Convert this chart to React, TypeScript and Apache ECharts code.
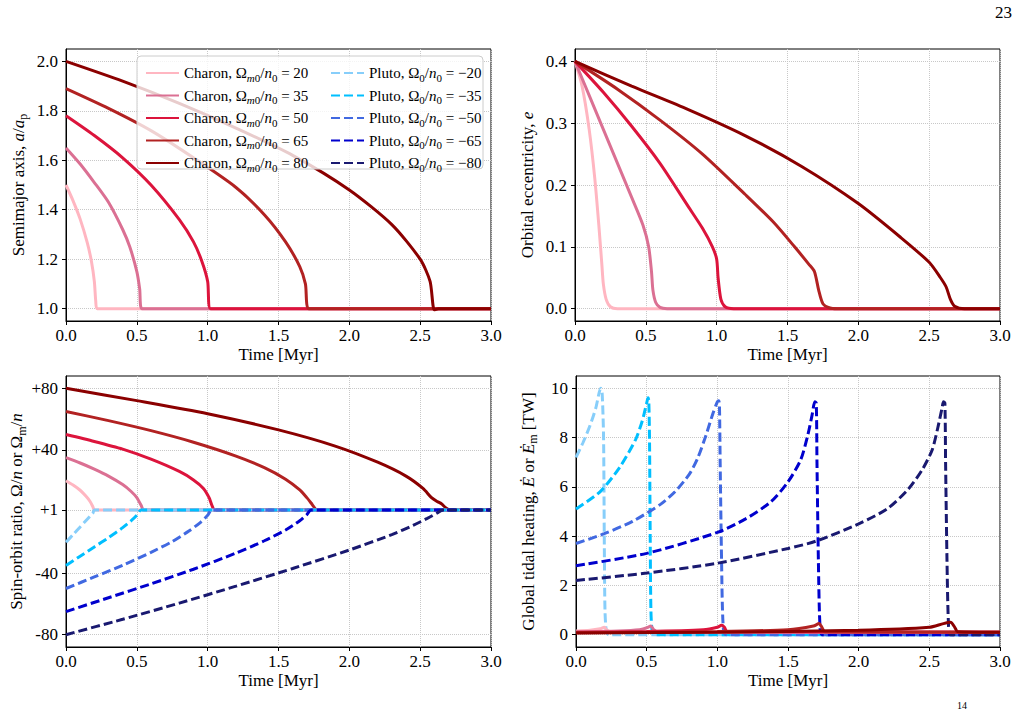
import React, { useEffect, useRef } from "react";
import * as echarts from "echarts";

const FONT = "'Liberation Serif', 'Times New Roman', serif";

const charonRatios = [20, 35, 50, 65, 80];
const plutoRatios = [-20, -35, -50, -65, -80];
const charonColors = ["#FFB6C1", "#DB7093", "#DC143C", "#B22222", "#8B0000"];
const plutoColors = ["#87CEFA", "#00BFFF", "#4169E1", "#0000CD", "#191970"];

const timeTicks = [0, 0.5, 1, 1.5, 2, 2.5, 3];
const semiTicks = [1.0, 1.2, 1.4, 1.6, 1.8, 2.0];
const eccTicks = [0, 0.1, 0.2, 0.3, 0.4];
const spinTicks = [-80, -40, 1, 40, 80];
const heatTicks = [0, 2, 4, 6, 8, 10];

// Semimajor axis a/a_p (Charon runs)
const semi20 = [[0, 1.5], [0.05, 1.436], [0.1, 1.362], [0.15, 1.267], [0.18, 1.19], [0.2, 1.11], [0.21, 1.03], [0.22, 1.0], [3, 1.0]];
const semi35 = [[0, 1.65], [0.1, 1.585], [0.2, 1.51], [0.3, 1.43], [0.4, 1.32], [0.45, 1.25], [0.5, 1.15], [0.52, 1.08], [0.535, 1.0], [3, 1.0]];
const semi50 = [[0, 1.78], [0.2, 1.7], [0.4, 1.61], [0.6, 1.5], [0.8, 1.36], [0.9, 1.27], [0.96, 1.19], [1.0, 1.11], [1.02, 1.0], [3, 1.0]];
const semi65 = [[0, 1.89], [0.3, 1.81], [0.6, 1.72], [0.9, 1.61], [1.2, 1.49], [1.4, 1.38], [1.55, 1.27], [1.65, 1.17], [1.69, 1.1], [1.715, 1.0], [3, 1.0]];
const semi80 = [[0, 2.0], [0.4, 1.92], [0.8, 1.83], [1.2, 1.73], [1.6, 1.62], [2.0, 1.48], [2.3, 1.34], [2.5, 1.2], [2.57, 1.11], [2.6, 0.995], [2.63, 1.0], [3, 1.0]];

// Orbital eccentricity e
const ecc20 = [[0, 0.4], [0.05, 0.36], [0.1, 0.29], [0.14, 0.21], [0.17, 0.13], [0.19, 0.07], [0.2, 0.04], [0.22, 0.015], [0.25, 0.003], [0.3, 0], [3, 0]];
const ecc35 = [[0, 0.4], [0.1, 0.345], [0.2, 0.29], [0.3, 0.235], [0.4, 0.18], [0.48, 0.135], [0.52, 0.1], [0.54, 0.06], [0.55, 0.03], [0.57, 0.01], [0.6, 0.002], [0.65, 0], [3, 0]];
const ecc50 = [[0, 0.4], [0.2, 0.35], [0.4, 0.295], [0.6, 0.235], [0.8, 0.165], [0.9, 0.13], [0.97, 0.1], [1.0, 0.08], [1.01, 0.05], [1.03, 0.015], [1.06, 0.003], [1.12, 0], [3, 0]];
const ecc65 = [[0, 0.4], [0.3, 0.355], [0.6, 0.305], [0.9, 0.25], [1.2, 0.185], [1.4, 0.14], [1.55, 0.1], [1.65, 0.072], [1.69, 0.06], [1.72, 0.03], [1.75, 0.008], [1.8, 0.001], [1.85, 0], [3, 0]];
const ecc80 = [[0, 0.4], [0.4, 0.36], [0.8, 0.322], [1.2, 0.28], [1.6, 0.23], [2.0, 0.17], [2.3, 0.115], [2.5, 0.075], [2.58, 0.05], [2.62, 0.035], [2.65, 0.015], [2.68, 0.004], [2.75, 0], [3, 0]];

// Spin-orbit ratio (Charon solid, Pluto dashed)
const spinC20 = [[0, 20], [0.05, 17.2], [0.1, 13.8], [0.14, 10], [0.17, 6.5], [0.19, 3], [0.2, 1], [3, 1]];
const spinC35 = [[0, 35], [0.1, 31.5], [0.2, 27.5], [0.3, 23], [0.4, 17.5], [0.46, 13], [0.5, 9], [0.53, 4], [0.55, 1], [3, 1]];
const spinC50 = [[0, 50], [0.2, 45.5], [0.4, 40.5], [0.6, 34], [0.8, 26], [0.9, 20.5], [0.97, 15], [1.01, 9], [1.03, 4], [1.05, 1], [3, 1]];
const spinC65 = [[0, 65], [0.3, 59], [0.6, 52.5], [0.9, 45], [1.2, 36], [1.4, 28.5], [1.55, 21], [1.65, 14], [1.7, 9], [1.73, 5.5], [1.75, 3], [1.77, 1], [3, 1]];
const spinC80 = [[0, 80], [0.5, 72], [1.0, 63.5], [1.5, 53], [1.9, 42.5], [2.2, 32], [2.4, 23], [2.52, 15], [2.58, 9], [2.62, 6.5], [2.65, 5], [2.68, 2.5], [2.71, 1], [3, 1]];
const spinP20 = [[0, -20], [0.05, -15], [0.1, -10], [0.14, -6], [0.17, -3], [0.19, -1], [0.2, 1], [3, 1]];
const spinP35 = [[0, -35], [0.1, -29], [0.2, -23], [0.3, -17], [0.4, -10.5], [0.46, -6], [0.5, -2.5], [0.53, 1], [3, 1]];
const spinP50 = [[0, -50], [0.2, -42.5], [0.4, -35], [0.6, -26.5], [0.75, -19.5], [0.87, -12.5], [0.95, -7], [1.0, -2.5], [1.03, 1], [3, 1]];
const spinP65 = [[0, -65], [0.3, -56], [0.6, -47], [0.9, -37.5], [1.2, -27], [1.4, -19], [1.55, -12], [1.65, -6], [1.7, -2], [1.73, 1], [3, 1]];
const spinP80 = [[0, -80], [0.4, -70], [0.8, -59.5], [1.2, -48.5], [1.6, -37], [2.0, -25], [2.3, -15], [2.45, -9], [2.55, -4.5], [2.62, -1], [2.66, 1], [3, 1]];

// Global tidal heating [TW]
const heatC20 = [[0, 0.15], [0.1, 0.18], [0.17, 0.24], [0.2, 0.3], [0.22, 0.18], [0.25, 0.1], [3, 0.1]];
const heatC35 = [[0, 0.12], [0.3, 0.15], [0.45, 0.2], [0.5, 0.28], [0.53, 0.35], [0.55, 0.2], [0.58, 0.1], [3, 0.1]];
const heatC50 = [[0, 0.1], [0.5, 0.13], [0.9, 0.2], [1.0, 0.3], [1.03, 0.38], [1.05, 0.3], [1.07, 0.12], [3, 0.1]];
const heatC65 = [[0, 0.08], [1.0, 0.13], [1.5, 0.2], [1.68, 0.35], [1.72, 0.45], [1.74, 0.3], [1.76, 0.12], [3, 0.1]];
const heatC80 = [[0, 0.07], [1.0, 0.1], [2.0, 0.18], [2.5, 0.3], [2.6, 0.45], [2.65, 0.5], [2.68, 0.3], [2.7, 0.12], [3, 0.1]];
const heatP20 = [[0, 7.2], [0.05, 7.8], [0.1, 8.5], [0.14, 9.2], [0.175, 10], [0.185, 9.8], [0.195, 8], [0.2, 4], [0.205, 1], [0.215, 0.1], [0.23, 0], [3, 0]];
const heatP35 = [[0, 5.1], [0.17, 5.8], [0.31, 6.8], [0.42, 7.9], [0.47, 8.7], [0.5, 9.4], [0.51, 9.62], [0.515, 9.5], [0.52, 8], [0.525, 4], [0.53, 1], [0.54, 0.1], [0.56, 0], [3, 0]];
const heatP50 = [[0, 3.7], [0.2, 4.1], [0.4, 4.6], [0.6, 5.3], [0.7, 5.8], [0.8, 6.5], [0.86, 7.15], [0.92, 8.1], [0.97, 9.0], [1.0, 9.45], [1.01, 9.5], [1.015, 9.3], [1.02, 7], [1.03, 3], [1.04, 0.5], [1.06, 0], [3, 0]];
const heatP65 = [[0, 2.8], [0.5, 3.3], [1.0, 4.15], [1.2, 4.7], [1.38, 5.4], [1.5, 6.2], [1.59, 7.1], [1.64, 8.1], [1.67, 8.9], [1.69, 9.45], [1.7, 9.4], [1.705, 7], [1.715, 3], [1.725, 0.5], [1.74, 0], [3, 0]];
const heatP80 = [[0, 2.2], [0.5, 2.5], [1.0, 2.9], [1.5, 3.5], [1.7, 3.8], [2.0, 4.5], [2.2, 5.1], [2.35, 5.9], [2.45, 6.7], [2.52, 7.5], [2.56, 8.4], [2.59, 9.2], [2.6, 9.45], [2.61, 9.4], [2.615, 7], [2.625, 3], [2.635, 0.5], [2.65, 0], [3, 0]];

const semiData = [semi20, semi35, semi50, semi65, semi80];
const eccData = [ecc20, ecc35, ecc50, ecc65, ecc80];
const spinCharon = [spinC20, spinC35, spinC50, spinC65, spinC80];
const spinPluto = [spinP20, spinP35, spinP50, spinP65, spinP80];
const heatCharon = [heatC20, heatC35, heatC50, heatC65, heatC80];
const heatPluto = [heatP20, heatP35, heatP50, heatP65, heatP80];

const charonNames = charonRatios.map((r) => `Charon ${r}`);
const plutoNames = plutoRatios.map((r) => `Pluto ${r}`);

const legendLabel = (name: string) => {
  const [who, val] = name.split(" ");
  const v = Number(val);
  if (who === "Charon") return `Charon, Ω{subi|m}{sub|0}/{i|n}{sub|0} = ${v}`;
  return `Pluto, Ω{sub|0}/{i|n}{sub|0} = \u2212${Math.abs(v)}`;
};

function richDefs(size: number, lh: number) {
  return {
    i: { fontFamily: FONT, fontStyle: "italic", fontSize: size, color: "#000", lineHeight: lh },
    sub: { fontFamily: FONT, fontSize: Math.round(size * 0.7), color: "#000", verticalAlign: "bottom", lineHeight: Math.round(size * 0.7) },
    subi: { fontFamily: FONT, fontStyle: "italic", fontSize: Math.round(size * 0.7), color: "#000", verticalAlign: "bottom", lineHeight: Math.round(size * 0.7) },
  };
}

const GRIDS = [
  { left: 66, top: 49, width: 425, height: 272 },
  { left: 575, top: 49, width: 425, height: 272 },
  { left: 66, top: 376, width: 425, height: 271 },
  { left: 576, top: 376, width: 424, height: 271 },
];

export default function App() {
  const ref = useRef<HTMLDivElement>(null);
  useEffect(() => {
    if (!ref.current) return;
    const chart = echarts.init(ref.current, undefined, { renderer: "svg" });

    const xAxis = GRIDS.map((_, i) => ({
      type: "value",
      gridIndex: i,
      min: timeTicks[0],
      max: timeTicks[timeTicks.length - 1],
      interval: 0.5,
      axisLine: { show: true, onZero: false, lineStyle: { color: "#000", width: 1 } },
      axisTick: { show: true, length: 4, lineStyle: { color: "#000" } },
      axisLabel: { color: "#000", fontFamily: FONT, fontSize: 17, margin: 6, formatter: (v: number) => v.toFixed(1) },
      splitLine: { show: true, lineStyle: { color: "#c8c8c8", type: "dotted", width: 1 } },
      name: "Time [Myr]",
      nameLocation: "middle",
      nameGap: 25,
      nameTextStyle: { color: "#000", fontFamily: FONT, fontSize: 17 },
    }));

    const yCommon = (i: number, min: number, max: number, ticks: number[], fmt: (v: number) => string, name: string) => ({
      type: "value",
      gridIndex: i,
      min,
      max,
      axisLine: { show: true, onZero: false, lineStyle: { color: "#000", width: 1 } },
      axisTick: { show: true, length: 4, lineStyle: { color: "#000" }, customValues: ticks },
      axisLabel: { color: "#000", fontFamily: FONT, fontSize: 17, margin: 8, customValues: ticks, formatter: fmt },
      splitLine: { show: true, lineStyle: { color: "#c8c8c8", type: "dotted", width: 1 } },
      name,
      nameLocation: "middle",
      nameRotate: 90,
      nameGap: 37,
      nameTextStyle: { color: "#000", fontFamily: FONT, fontSize: 17, lineHeight: 22, rich: richDefs(17, 22) },
    });

    const yAxis = [
      yCommon(0, 0.95, 2.05, semiTicks, (v) => v.toFixed(1), "Semimajor axis, {i|a}/{i|a}{sub|p}"),
      yCommon(1, -0.02, 0.42, eccTicks, (v) => v.toFixed(1), "Orbital eccentricity, {i|e}"),
      yCommon(2, -88, 88, spinTicks, (v) => (v > 0 ? "+" + v : String(v)), "Spin-orbit ratio, Ω/{i|n} or Ω{sub|m}/{i|n}"),
      yCommon(3, -0.5, 10.5, heatTicks, (v) => String(v), "Global tidal heating, {i|Ė} or {i|Ė}{sub|m} [TW]"),
    ];

    const mk = (name: string, idx: number, data: number[][], color: string, dashed: boolean) => ({
      type: "line",
      name,
      xAxisIndex: idx,
      yAxisIndex: idx,
      data,
      symbol: "none",
      showSymbol: false,
      smooth: 0.25,
      z: 2,
      lineStyle: { color, width: 3, type: dashed ? [9, 4] : "solid", cap: "butt" },
      itemStyle: { color },
      emphasis: { disabled: true },
    });

    const series: any[] = [];
    semiData.forEach((d, k) => series.push(mk(charonNames[k], 0, d, charonColors[k], false)));
    eccData.forEach((d, k) => series.push(mk(charonNames[k], 1, d, charonColors[k], false)));
    spinCharon.forEach((d, k) => series.push(mk(charonNames[k], 2, d, charonColors[k], false)));
    spinPluto.forEach((d, k) => series.push(mk(plutoNames[k], 2, d, plutoColors[k], true)));
    heatPluto.forEach((d, k) => series.push(mk(plutoNames[k], 3, d, plutoColors[k], true)));
    heatCharon.forEach((d, k) => series.push(mk(charonNames[k], 3, d, charonColors[k], false)));

    const legendCommon = {
      orient: "vertical",
      top: 58,
      itemWidth: 33,
      itemHeight: 14,
      itemGap: 2.5,
      selectedMode: false,
      formatter: legendLabel,
      itemStyle: { opacity: 0 },
      textStyle: { color: "#000", fontFamily: FONT, fontSize: 15, lineHeight: 20, rich: richDefs(15, 20) },
    };

    chart.setOption({
      animation: false,
      backgroundColor: "#fff",
      grid: GRIDS.map((g) => ({ ...g, show: true, borderColor: "#000", borderWidth: 1, backgroundColor: "transparent", containLabel: false })),
      xAxis,
      yAxis,
      legend: [
        { ...legendCommon, left: 140, data: charonNames },
        { ...legendCommon, left: 325, data: plutoNames },
      ],
      graphic: [
        {
          type: "rect",
          z: 3,
          shape: { x: 137, y: 56, width: 346, height: 113, r: 4 },
          style: { fill: "rgba(255,255,255,0.8)", stroke: "#cccccc", lineWidth: 1 },
        },
        { type: "text", x: 995, y: 4, style: { text: "23", font: `17px ${FONT}`, fill: "#000" } },
        { type: "text", x: 957, y: 700, style: { text: "14", font: `10px ${FONT}`, fill: "#000" } },
      ],
      series,
    });
    return () => chart.dispose();
  }, []);
  return <div ref={ref} style={{ position: "absolute", left: 0, top: 0, width: 1026, height: 720 }} />;
}
